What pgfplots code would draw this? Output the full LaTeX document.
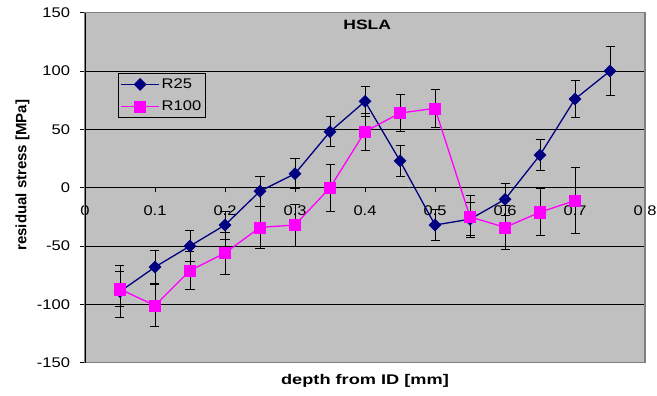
\documentclass[border=0pt]{standalone}
\usepackage{pgfplots}
\usepackage{pgfplotstable}
\pgfplotsset{compat=1.18}
\usepackage{fontspec}
\setmainfont{Liberation Sans}[FakeStretch=1.18, BoldFeatures={FakeStretch=1.3}]
\newfontfamily\ylfont{Liberation Sans}
\definecolor{navy}{HTML}{000080}
\definecolor{mag}{HTML}{FF00FF}
\definecolor{bg}{HTML}{C0C0C0}
\definecolor{frame}{HTML}{808080}

\pgfplotstableread{
x y e
0.05 -89 22
0.10 -68 14
0.15 -50 13
0.20 -32 12
0.25 -3 13
0.30 12 13
0.35 48 13
0.40 74 13
0.45 23 13
0.50 -32 13
0.55 -27 14
0.60 -10 14
0.65 28 13
0.70 76 16
0.75 100 21
}\rtwentyfive

\pgfplotstableread{
x y e
0.05 -87 15
0.10 -101 18
0.15 -71 16
0.20 -56 18
0.25 -34 18
0.30 -32 18
0.35 0 20
0.40 48 16
0.45 64 16
0.50 68 16
0.55 -25 18
0.60 -34 19
0.65 -21 20
0.70 -11 28
}\rhundred

\begin{document}
\begin{tikzpicture}
\begin{axis}[name=ax, scale only axis, width=560bp, height=350bp,
  xmin=0, xmax=0.8, ymin=-150, ymax=150,
  axis x line*=middle, axis y line*=left,
  hide obscured x ticks=false,
  axis background/.style={fill=bg},
  xtick={0,0.1,0.2,0.3,0.4,0.5,0.6,0.7,0.8},
  xticklabels={0,0.1,0.2,0.3,0.4,0.5,0.6,0.7,0.8},
  ytick={-150,-100,-50,0,50,100,150},
  /pgf/number format/assume math mode=true,
  tick align=outside,
  major tick length=4.5bp,
  tick style={black, line width=0.8bp},
  x axis line style={black, line width=0.8bp},
  y axis line style={black, line width=0.9bp},
  ymajorgrids, grid style={black, line width=0.8bp},
  ticklabel style={font=\fontsize{14bp}{16bp}\selectfont},
  xticklabel style={yshift=-10bp},
  yticklabel style={xshift=-7bp},
  title={HSLA},
  title style={font=\fontsize{13.5bp}{15bp}\selectfont\bfseries, at={(axis description cs:0.504,1)}, anchor=north, yshift=-10bp},
  xlabel={depth from ID [mm]},
  xlabel style={font=\fontsize{14bp}{16bp}\selectfont\bfseries, at={(axis description cs:0.5,0)}, anchor=north, yshift=-8bp},
  ylabel={residual stress [MPa]},
  ylabel style={font=\fontsize{15bp}{17bp}\selectfont\ylfont\bfseries, at={(axis description cs:-0.1116,0.536)}, anchor=center, rotate=0},
  legend style={at={(axis description cs:0.059,0.828)}, anchor=north west, fill=bg, draw=black, line width=0.8bp,
    font=\fontsize{14bp}{16bp}\selectfont, row sep=7bp, inner xsep=2bp, inner ysep=3.5bp},
  legend cell align=left,
  legend image code/.code={\draw[mark repeat=2,mark phase=2] plot coordinates {(0bp,0bp) (19bp,0bp) (38bp,0bp)};},
  error bars/y dir=both, error bars/y explicit,
  error bars/error bar style={black, line width=0.8bp},
  error bars/error mark options={black, rotate=90, mark size=4.5bp, line width=0.8bp},
]
\addplot[navy, line width=1.3bp, mark=square*, mark size=4.25bp, mark options={rotate=45, fill=navy, draw=navy, line width=0.5bp}]
  table[x=x, y=y, y error=e] {\rtwentyfive};
\addlegendentry{R25}
\addplot[mag, line width=1.3bp, mark=square*, mark size=5.6bp, mark options={fill=mag, draw=mag, line width=0.5bp}]
  table[x=x, y=y, y error=e] {\rhundred};
\addlegendentry{R100}
\end{axis}
\draw[frame, line width=1.2bp] (ax.south west) rectangle (ax.north east);
\draw[black, line width=0.9bp] (ax.south west) -- (ax.north west);
\pgfresetboundingbox
\path ([shift={(-85bp,-33.3bp)}]ax.south west) rectangle ([shift={(12bp,12.7bp)}]ax.north east);
\end{tikzpicture}
\end{document}
